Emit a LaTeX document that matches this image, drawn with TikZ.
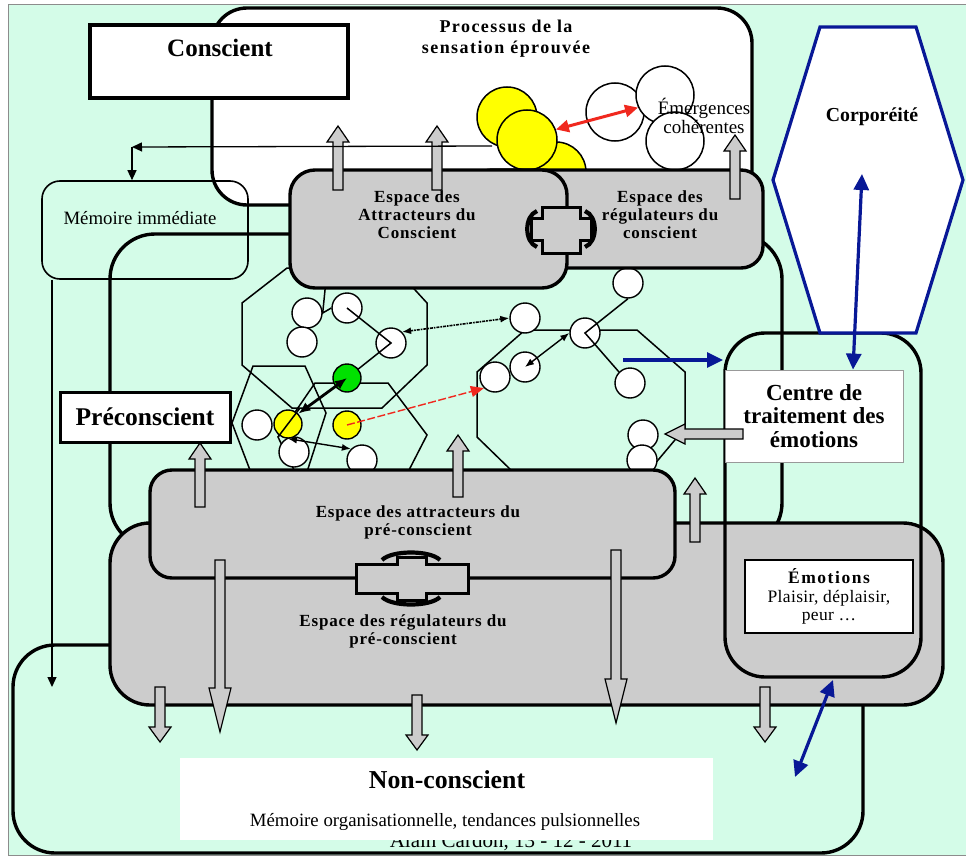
\documentclass[tikz,border=0pt]{standalone}
\usepackage{fontspec}
\setmainfont{Liberation Serif}
\usetikzlibrary{arrows.meta}
\definecolor{mint}{RGB}{212,252,232}
\definecolor{boxgray}{RGB}{204,204,204}
\definecolor{navy}{RGB}{8,24,150}
\definecolor{arrred}{RGB}{240,40,30}
\definecolor{ylw}{RGB}{255,255,0}
\definecolor{grn}{RGB}{0,225,0}

% vertical block arrow: x, tail y, head-base y, tip y
\newcommand\vblock[4]{%
  \draw[blockarrow] ({#1-5},#2) -- ({#1-5},#3) -- ({#1-11},#3) -- (#1,#4)
     -- ({#1+11},#3) -- ({#1+5},#3) -- ({#1+5},#2) -- cycle;}

\begin{document}
\begin{tikzpicture}[x=1pt,y=-1pt,
  heavy/.style={draw=black,line width=3.4pt},
  region/.style={heavy,fill=mint},
  grayblock/.style={heavy,fill=boxgray},
  net/.style={draw=black,line width=1.5pt},
  wc/.style={circle,draw=black,line width=1.4pt,fill=white,minimum size=30pt,inner sep=0pt},
  yc/.style={wc,fill=ylw,minimum size=28pt},
  gc/.style={wc,fill=grn,minimum size=28pt},
  bigyc/.style={circle,draw=black,line width=1.5pt,fill=ylw,minimum size=60pt,inner sep=0pt},
  emc/.style={circle,draw=black,line width=1.5pt,fill=white,minimum size=58pt,inner sep=0pt},
  blockarrow/.style={draw=black,line width=1.2pt,fill=boxgray},
  navyline/.style={draw=navy,line width=3.2pt},
  navyarrow/.style={navy,line width=3.2pt,arrows={Triangle[length=16pt,width=15pt]-Triangle[length=16pt,width=15pt]}},
  navyright/.style={navy,line width=3.2pt,arrows={-Triangle[length=16pt,width=15pt]}},
  redarrow/.style={arrred,line width=3pt,arrows={Triangle[length=13pt,width=12pt]-Triangle[length=13pt,width=12pt]}},
  reddash/.style={arrred,line width=1.4pt,dash pattern=on 8pt off 2.5pt,arrows={-Triangle[length=13pt,width=11pt]}},
  thinarrow/.style={black,line width=1.3pt,arrows={-Triangle[length=10pt,width=9pt]}},
  dbl/.style={black,line width=1.4pt,arrows={Latex[length=9pt,width=7pt]-Latex[length=9pt,width=7pt]}},
  dotarrow/.style={black,line width=1.6pt,densely dashdotted,arrows={Latex[length=9pt,width=7pt]-Latex[length=9pt,width=7pt]}},
  heavydbl/.style={black,line width=2.8pt,arrows={Latex[length=12pt,width=10pt]-Latex[length=12pt,width=10pt]}},
  spaced/.style={align=center,font={\fontsize{17}{18}\selectfont\bfseries\addfontfeatures{LetterSpace=5}}},
  hookcap/.style={line width=4.2pt,line cap=butt}
]
\useasboundingbox (0,0) rectangle (966,856);
\fill[white] (0,0) rectangle (966,856);
\draw[fill=mint,draw=black!45,line width=1pt] (8,5) rectangle (975,855);

% ---------- non-conscient layer ----------
\draw[region,rounded corners=42pt] (13,645) rectangle (863,853);
\node[font=\fontsize{21}{22}\selectfont] (sign) at (511,842) {Alain Cardon, 13 - 12 - 2011};
\node[fill=white,minimum width=533pt,minimum height=82pt,inner sep=0pt] (ncbox) at (446.5,799) {};
\node[font=\fontsize{25.8}{28}\selectfont\bfseries] (nctitle) at (447,780) {Non-conscient};
\node[font=\fontsize{18.8}{20}\selectfont] (ncsub) at (445,822) {Mémoire organisationnelle, tendances pulsionnelles};

% ---------- sensation process ----------
\draw[heavy,fill=white,rounded corners=35pt] (212,8) rectangle (752,205);
\node[bigyc] (ylwA) at (507,117) {};
\node[bigyc] (ylwC) at (556,172) {};
\node[bigyc] (ylwB) at (527,140) {};
\node[emc] (emD) at (615,112) {};
\node[emc] (emE) at (665,95) {};
\node[emc] (emF) at (675,141) {};
\draw[redarrow] (ylwB.20) -- (emE.205);
\node[align=center,font=\fontsize{19}{17}\selectfont] (emtext) at (704,116) {Émergences\\cohérentes};
\node[align=center,font={\fontsize{18}{21}\selectfont\bfseries\addfontfeatures{LetterSpace=8}}] (proc) at (506,39) {Processus de la\\sensation éprouvée};

% ---------- conscious label ----------
\node[heavy,fill=white,minimum width=258pt,minimum height=73pt,inner sep=0pt] (consc) at (219,61.5) {};
\node[font=\fontsize{25}{28}\selectfont\bfseries] (conscT) at (220,48) {Conscient};

% ---------- preconscious region ----------
\draw[region,rounded corners=45pt] (110,234) rectangle (782,548);

% polygons of the attractor network
\draw[net] (242,303) -- (242,365) -- (292,408) -- (382,408) -- (427,365) -- (427,303) -- (395,268) -- (287,268) -- cycle;
\draw[net] (253,366) -- (305,366) -- (326,413) -- (305,478) -- (253,478) -- (232,423) -- cycle;
\draw[net] (295,472) -- (278,437) -- (315,383) -- (388,383) -- (427,435) -- (408,472);
\draw[net] (513,472) -- (477,437) -- (477,372) -- (525,330) -- (637,330) -- (685,372) -- (685,428) -- (648,472);

% agents
\node[wc] (c1) at (307,313) {};
\node[wc] (c2) at (347,308) {};
\node[wc] (c3) at (302,342) {};
\node[wc] (c4) at (391,343) {};
\node[wc] (c5) at (257,425) {};
\node[wc] (c6) at (294,452) {};
\node[wc] (c7) at (362,460) {};
\node[wc] (r1) at (628,283) {};
\node[wc] (r2) at (525,318) {};
\node[wc] (r3) at (585,333) {};
\node[wc] (r4) at (525,367) {};
\node[wc] (r5) at (495,377) {};
\node[wc] (r6) at (630,383) {};
\node[wc] (r7) at (643,435) {};
\node[wc] (r8) at (642,460) {};

\draw[net] (326,280) -- (c1.east) -- (c2.west);
\draw[net] (c2.center) -- (c4.center) -- (347,378);
\draw[net] (r1.south) -- (r3.center) -- (r6.north west);

\node[gc] (g) at (347,378) {};
\node[yc] (y1) at (288,424) {};
\node[yc] (y2) at (347,425) {};
\draw[net] (300,408) -- (278,437);

\draw[heavydbl] (y1.north east) -- (g.center);
\draw[dbl] (y1.south) -- (c7.north west);
\draw[dbl] (r4.center) -- (r3.west);
\draw[dotarrow] (c4.north east) -- (r2.west);
\draw[reddash] (y2.center) -- (r5.south west);

% ---------- conscious attractor / regulator spaces ----------
\draw[grayblock,rounded corners=22pt] (470,170) rectangle (763,268);
\draw[grayblock,rounded corners=25pt] (290,170) rectangle (567,288);
\draw[line width=3pt,fill=boxgray] (542,207) -- (580,207) -- (580,218) -- (591,218) -- (591,240) -- (580,240) -- (580,253) -- (542,253) -- (542,240) -- (531,240) -- (531,218) -- (542,218) -- cycle;
\draw[hookcap] (537,211) .. controls (524,216) and (524,242) .. (537,247);
\draw[hookcap] (585,211) .. controls (598,216) and (598,242) .. (585,247);
\node[spaced] (attrC) at (417,215) {Espace des\\Attracteurs du\\Conscient};
\node[spaced] (regC) at (660,215) {Espace des\\régulateurs du\\conscient};

% ---------- preconscious attractor / regulator spaces ----------
\draw[grayblock,rounded corners=40pt] (110,523) rectangle (943,705);
\draw[grayblock,rounded corners=22pt] (150,470) rectangle (675,578);
\draw[line width=3pt,fill=boxgray] (356,564) -- (397,564) -- (397,557) -- (426,557) -- (426,564) -- (468,564) -- (468,593) -- (426,593) -- (426,600) -- (397,600) -- (397,593) -- (356,593) -- cycle;
\draw[hookcap] (382,560) .. controls (392,550) and (430,550) .. (440,560);
\draw[hookcap] (382,597) .. controls (392,607) and (430,607) .. (440,597);
\node[spaced] (attrP) at (418,522) {Espace des attracteurs du\\pré-conscient};
\node[spaced] (regP) at (403,631) {Espace des régulateurs du\\pré-conscient};

% ---------- emotions centre ----------
\draw[heavy,rounded corners=40pt] (725,333) rectangle (921,677);
\draw[navyline,fill=white] (820,27) -- (916,27) -- (963,180) -- (916,333) -- (820,333) -- (773,180) -- cycle;
\node[font=\fontsize{19.8}{20}\selectfont\bfseries] (corpo) at (872,117) {Corporéité};
\node[fill=white,draw=black!40,line width=0.8pt,minimum width=178pt,minimum height=92pt,inner sep=0pt,align=center,
      font=\fontsize{23}{23.5}\selectfont\bfseries] (ctr) at (814,416) {Centre de\\traitement des\\émotions};
\node[fill=white,draw=black,line width=1.5pt,minimum width=168pt,minimum height=73pt,inner sep=0pt,align=center,
      font={\fontsize{17.5}{18.5}\selectfont\addfontfeatures{LetterSpace=2}}] (emo) at (829,596.5)
      {{\bfseries\addfontfeatures{LetterSpace=9}Émotions}\\Plaisir, déplaisir,\\peur …};

\coordinate (corpoTip) at (862,174);
\coordinate (netEdge) at (623,360);
\coordinate (ncTip) at (795,777);
\draw[navyarrow] (corpoTip) -- (ctr.north -| 853,0);
\draw[navyright] (netEdge) -- (723,360);
\draw[navyarrow] (833,680) -- (ncTip);

% ---------- block arrows ----------
\vblock{338}{190}{142}{126}
\vblock{437}{190}{142}{126}
\vblock{735}{199}{151}{135}
\vblock{200}{507}{459}{443}
\vblock{458}{497}{451}{435}
\vblock{695}{542}{494}{478}
\vblock{160}{687}{727}{742}
\vblock{220}{560}{688}{732}
\vblock{417}{695}{735}{750}
\vblock{616}{550}{679}{723}
\vblock{765}{687}{727}{742}
\draw[blockarrow] (743,429) -- (685,429) -- (685,424) -- (665,434) -- (685,444) -- (685,439) -- (743,439) -- cycle;

% ---------- immediate memory ----------
\node[draw=black,line width=1.6pt,rounded corners=18pt,minimum width=206pt,minimum height=98pt,inner sep=0pt] (mem) at (145,230) {};
\node[font=\fontsize{18.8}{19}\selectfont] (memT) at (140,218) {Mémoire immédiate};
\coordinate (tap) at (492,146);
\coordinate (memturn) at (132,147);
\coordinate (memdrop) at (52,687);
\draw[thinarrow] (tap) -- (memturn);
\draw[thinarrow] (memturn) -- (memturn |- mem.north);
\draw[thinarrow] (memdrop |- mem.south) -- (memdrop);

% ---------- preconscious label ----------
\node[heavy,line width=3pt,fill=white,minimum width=170pt,minimum height=50pt,inner sep=0pt,
      font=\fontsize{25.5}{26}\selectfont\bfseries] (precT) at (145,417) {Préconscient};
\end{tikzpicture}
\end{document}
